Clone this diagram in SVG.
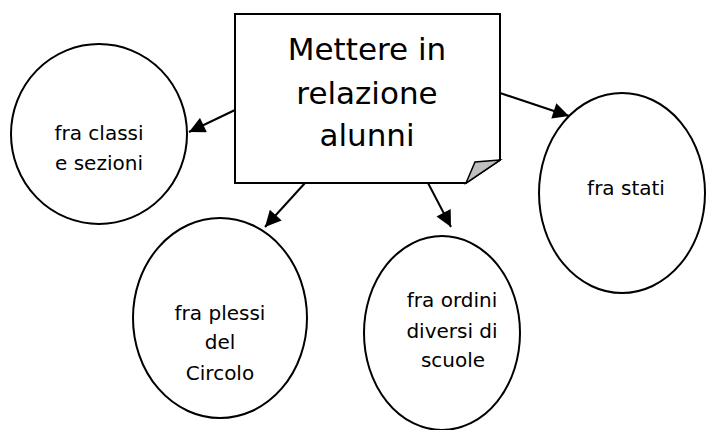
<svg xmlns="http://www.w3.org/2000/svg" width="707" height="430" viewBox="0 0 707 430">
<defs>
<style>
.n{fill:#fff;stroke:#000;stroke-width:2}
.t{font-family:"DejaVu Sans","Liberation Sans",sans-serif;fill:#000;text-anchor:middle}
.big{font-size:31px}
.sm{font-size:20px}
.c{stroke:#000;stroke-width:2;fill:none;marker-end:url(#ah)}
</style>
<marker id="ah" viewBox="0 0 10 10" refX="10" refY="5" markerWidth="9" markerHeight="8" markerUnits="strokeWidth" orient="auto">
<path d="M0,0 L10,5 L0,10 z" fill="#000"/>
</marker>
</defs>
<rect width="707" height="430" fill="#fff"/>
<g id="main">
<path class="n" d="M235,14 H500 V160 L466,183 H235 Z"/>
<path d="M466,183 L475,162 L500,160 Z" fill="#c0c0c0" stroke="#000" stroke-width="1.5"/>
<text class="t big" x="367" y="60">Mettere in</text>
<text class="t big" x="367" y="104">relazione</text>
<text class="t big" x="367" y="146">alunni</text>
</g>
<g id="classi">
<ellipse class="n" cx="99" cy="134" rx="88" ry="90"/>
<text class="t sm" x="99" y="140">fra classi</text>
<text class="t sm" x="99" y="170">e sezioni</text>
</g>
<g id="stati">
<ellipse class="n" cx="622" cy="193" rx="83" ry="100"/>
<text class="t sm" x="626" y="195">fra stati</text>
</g>
<g id="plessi">
<ellipse class="n" cx="220" cy="318" rx="87" ry="100"/>
<text class="t sm" x="220" y="320">fra plessi</text>
<text class="t sm" x="220" y="349">del</text>
<text class="t sm" x="220" y="380">Circolo</text>
</g>
<g id="ordini">
<ellipse class="n" cx="442" cy="333" rx="78" ry="97"/>
<text class="t sm" x="452" y="307">fra ordini</text>
<text class="t sm" x="452" y="338">diversi di</text>
<text class="t sm" x="453" y="367">scuole</text>
</g>
<g id="connectors">
<line class="c" x1="235" y1="110" x2="189" y2="132"/>
<line class="c" x1="500" y1="93" x2="569" y2="116"/>
<line class="c" x1="305" y1="183" x2="265" y2="227"/>
<line class="c" x1="428" y1="183" x2="451" y2="227"/>
</g>
</svg>
